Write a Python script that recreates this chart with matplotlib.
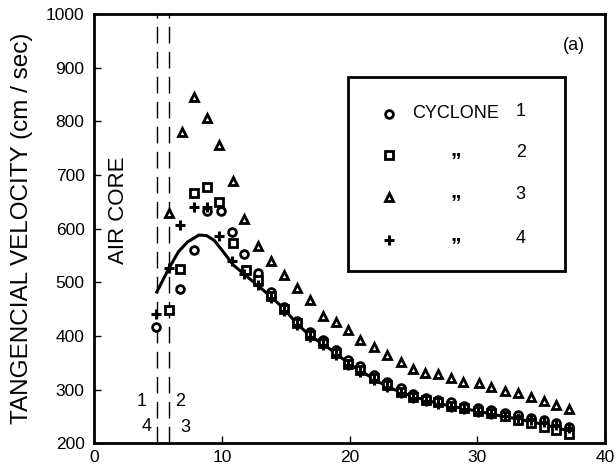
import matplotlib
matplotlib.use("Agg")
import matplotlib.pyplot as plt
from matplotlib.patches import Rectangle

plt.rcParams['font.family'] = ['Liberation Sans', 'DejaVu Sans']

# radial position (cm) and tangential velocity (cm/sec)
r_cyc1 = [4.8, 6.75, 7.8, 8.8, 9.9, 10.8, 11.75, 12.8, 13.85, 14.85, 15.9, 16.9, 17.9,
          18.9, 19.9, 20.85, 21.95, 22.95, 24.0, 25.0, 25.95, 26.95, 27.95, 28.95, 30.05,
          31.1, 32.15, 33.2, 34.2, 35.2, 36.2, 37.2]
v_cyc1 = [417, 487, 561, 633, 633, 594, 552, 517, 481, 454, 428, 408, 392,
          374, 356, 343, 328, 314, 302, 292, 285, 280, 276, 270, 266,
          262, 257, 252, 247, 243, 237, 230]

r_cyc2 = [5.85, 6.75, 7.8, 8.85, 9.8, 10.85, 11.85, 12.8, 13.85, 14.85, 15.9, 16.9, 17.9,
          18.9, 19.9, 20.85, 21.95, 22.95, 24.0, 25.0, 25.95, 26.95, 27.95, 28.95, 30.05,
          31.1, 32.15, 33.2, 34.2, 35.2, 36.2, 37.2]
v_cyc2 = [448, 524, 667, 678, 650, 574, 522, 505, 475, 450, 424, 402, 387,
          368, 348, 336, 322, 308, 296, 287, 281, 276, 270, 265, 260,
          256, 250, 244, 238, 231, 224, 217]

r_cyc3 = [5.85, 6.85, 7.85, 8.85, 9.75, 10.9, 11.75, 12.8, 13.85, 14.85, 15.9, 16.9, 17.9,
          18.9, 19.9, 20.8, 21.95, 22.9, 24.0, 25.0, 25.9, 26.95, 27.95, 28.9, 30.1,
          31.1, 32.2, 33.2, 34.2, 35.2, 36.2, 37.2]
v_cyc3 = [630, 781, 846, 806, 756, 688, 617, 568, 540, 513, 490, 467, 437,
          426, 411, 392, 380, 364, 352, 339, 331, 329, 321, 314, 312,
          305, 298, 293, 286, 278, 271, 263]

r_cyc4 = [4.8, 5.85, 6.75, 7.8, 8.85, 9.8, 10.8, 11.75, 12.8, 13.85, 14.85, 15.9, 16.9, 17.9,
          18.9, 19.9, 20.85, 21.95, 22.95, 24.0, 25.0, 25.95, 26.95, 27.95, 28.95, 30.05,
          31.1, 32.15, 33.2, 34.2, 35.2, 36.2, 37.2]
v_cyc4 = [440, 526, 607, 641, 641, 587, 540, 515, 495, 470, 446, 420, 398, 383,
          364, 346, 332, 318, 305, 294, 285, 279, 273, 268, 263, 259,
          255, 251, 247, 243, 239, 234, 228]

# solid curve
r_line = [4.9, 5.85, 6.6, 7.3, 8.2, 8.8, 9.4, 10.0, 10.9, 12.6, 13.8, 14.8, 15.8, 16.9,
          17.9, 18.9, 20.0, 21.0, 22.0, 23.0, 24.0, 25.0, 26.0, 27.0, 28.0, 29.0, 30.0,
          31.0, 32.0, 33.0, 34.0, 35.0, 36.0, 37.0]
v_line = [482, 526, 557, 575, 588, 587, 578, 560, 532, 498, 474, 452, 425, 400,
          385, 368, 347, 333, 318, 305, 295, 287, 280, 274, 269, 264, 260,
          255, 250, 246, 241, 236, 230, 224]

air_core = [4.9, 5.85]

series = [("o", r_cyc1, v_cyc1, "1"), ("s", r_cyc2, v_cyc2, "2"),
          ("^", r_cyc3, v_cyc3, "3"), ("+", r_cyc4, v_cyc4, "4")]

fig = plt.figure(figsize=(6.16, 4.68), dpi=100)
ax = fig.add_axes([0.153, 0.053, 0.829, 0.917])

for xc in air_core:
    ax.plot([xc, xc], [200, 1000], color="black", lw=1.0, ls=(0, (12, 6)))

ax.plot(r_line, v_line, color="black", lw=2.2, zorder=3)

def draw(mk, x, y, **kw):
    if mk == "+":
        ax.plot(x, y, ls="none", marker="+", ms=7.5, mew=2.2, color="black", zorder=4, **kw)
    else:
        ax.plot(x, y, ls="none", marker=mk, ms=5.6 if mk != "^" else 6.2, mew=2.0,
                mfc="white", mec="black", zorder=4, **kw)

for mk, x, y, _ in series:
    draw(mk, x, y)

# legend box drawn in data coords
ax.add_patch(Rectangle((19.87, 521), 16.98, 362, fill=False, lw=2.0, ec="black", zorder=5))
rows = [814, 737, 659, 578]
for (mk, _, _, num), ry in zip(series, rows):
    draw(mk, [23.06], [ry])
    ax.text(33.4, ry + 4, num, fontsize=13, ha="center", va="center")
ax.text(28.3, rows[0], "CYCLONE", fontsize=13, ha="center", va="center")
for ry in rows[1:]:
    ax.text(28.3, ry - 20, "\u201d", fontsize=15, fontweight="bold", ha="center", va="baseline")

ax.text(37.6, 942, "(a)", fontsize=13, ha="center", va="center")
ax.text(1.9, 635, "AIR CORE", fontsize=16, rotation=90, ha="center", va="center")
ax.text(3.72, 277, "1", fontsize=13, ha="center", va="center")
ax.text(6.74, 277, "2", fontsize=13, ha="center", va="center")
ax.text(4.12, 231, "4", fontsize=13, ha="center", va="center")
ax.text(7.13, 230, "3", fontsize=13, ha="center", va="center")

ax.set_xlim(0, 40)
ax.set_ylim(200, 1000)
ax.set_xticks(range(0, 41, 10))
ax.set_yticks(range(200, 1001, 100))
ax.tick_params(direction="in", length=5, width=1, labelsize=12.5)
ax.tick_params(axis="y", pad=7)
ax.tick_params(axis="x", pad=5)
for s in ax.spines.values():
    s.set_linewidth(2.0)
ax.set_ylabel("TANGENCIAL VELOCITY (cm / sec)", fontsize=17.5, labelpad=9)

fig.savefig("out.png", dpi=100)
